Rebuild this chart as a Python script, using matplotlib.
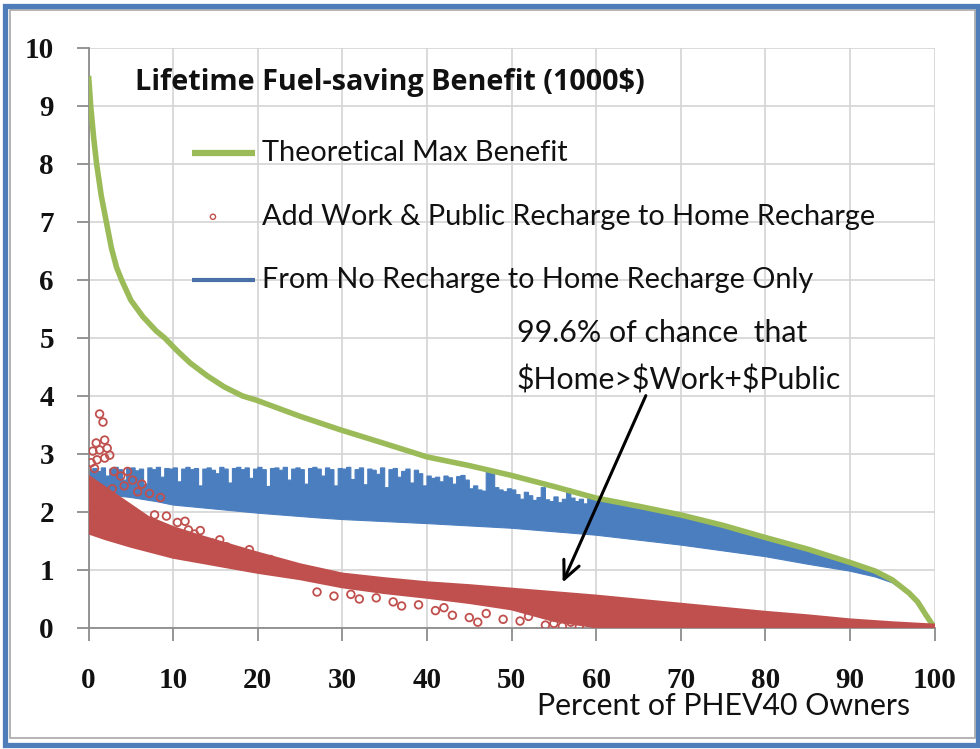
import numpy as np
import matplotlib
matplotlib.use("Agg")
import matplotlib.pyplot as plt
from matplotlib.patches import Rectangle

# Theoretical max benefit curve
green_x = [0, 0.25, 0.6, 0.95, 1.5, 2.1, 2.7, 3.3, 3.9, 5.0, 6.4, 8.0, 9.0, 10.4, 12, 14, 16,
           18.2, 19.8, 25, 29.7, 35, 40, 45, 50, 55, 60, 65, 70, 75, 80, 85, 90, 93, 95,
           97, 98, 99, 100]
green_y = [9.52, 9.0, 8.45, 8.0, 7.45, 7.0, 6.55, 6.22, 6.0, 5.65, 5.37, 5.12, 5.0, 4.79,
           4.57, 4.35, 4.16, 4.0, 3.93, 3.65, 3.42, 3.18, 2.95, 2.8, 2.63, 2.44, 2.24, 2.1,
           1.95, 1.77, 1.56, 1.36, 1.13, 0.98, 0.83, 0.6, 0.45, 0.22, 0.0]

# Home recharge only: jagged upper edge, one value per half percent (0 .. 59.5)
blue_top_step = [2.72, 2.75, 2.70, 2.76, 2.62, 2.74, 2.77, 2.73, 2.55, 2.75,
                 2.76, 2.71, 2.74, 2.48, 2.76, 2.73, 2.77, 2.60, 2.75, 2.74,
                 2.76, 2.52, 2.74, 2.77, 2.73, 2.75, 2.45, 2.74, 2.76, 2.72,
                 2.66, 2.77, 2.74, 2.50, 2.75, 2.77, 2.73, 2.76, 2.58, 2.74,
                 2.77, 2.73, 2.44, 2.75, 2.76, 2.72, 2.77, 2.55, 2.74, 2.76,
                 2.73, 2.48, 2.75, 2.77, 2.74, 2.62, 2.76, 2.73, 2.45, 2.75,
                 2.74, 2.77, 2.56, 2.73, 2.76, 2.47, 2.74, 2.72, 2.65, 2.76,
                 2.42, 2.73, 2.75, 2.60, 2.70, 2.74, 2.50, 2.72, 2.66, 2.45,
                 2.62, 2.58, 2.60, 2.52, 2.62, 2.59, 2.48, 2.61, 2.63, 2.55,
                 2.40, 2.45, 2.38, 2.36, 2.70, 2.66, 2.42, 2.38, 2.35, 2.40,
                 2.38, 2.30, 2.22, 2.34, 2.28, 2.20, 2.25, 2.42, 2.21, 2.18,
                 2.26, 2.16, 2.22, 2.40, 2.24, 2.18, 2.22, 2.14, 2.25, 2.20]
blue_tail_x = [60, 62, 64, 66, 68, 70, 72, 74, 76, 78, 80, 82, 84, 86, 88, 90,
               92, 94, 96, 98, 99, 100]
blue_tail_y = [2.22, 2.16, 2.08, 2.07, 1.98, 1.93, 1.86, 1.78, 1.72, 1.64, 1.55, 1.47,
               1.40, 1.32, 1.22, 1.12, 1.03, 0.90, 0.72, 0.45, 0.24, 0.0]
blue_lo_x = [0, 2, 5, 8, 10, 15, 20, 27, 30, 40, 50, 60, 70, 80, 85, 90, 93, 95, 97, 98, 99, 100]
blue_lo_y = [2.35, 2.3, 2.25, 2.18, 2.12, 2.05, 1.98, 1.9, 1.87, 1.8, 1.72, 1.6, 1.43, 1.23,
             1.1, 0.98, 0.88, 0.78, 0.58, 0.42, 0.22, 0.0]

# Work & public recharge: dense band edges
red_top_x = [0, 1, 3, 5, 7, 10, 13, 16, 20, 25, 30, 35, 40, 45, 50, 55, 60, 65, 70, 75,
             80, 85, 90, 95, 100]
red_top_y = [2.6, 2.5, 2.3, 2.1, 1.9, 1.72, 1.58, 1.45, 1.28, 1.08, 0.92, 0.84, 0.77,
             0.72, 0.66, 0.6, 0.54, 0.47, 0.4, 0.33, 0.26, 0.2, 0.13, 0.08, 0.04]
red_lo_x = [0, 2, 5, 10, 15, 20, 25, 30, 35, 40, 45, 50, 55, 60, 65, 70, 80, 90, 100]
red_lo_y = [1.65, 1.55, 1.42, 1.23, 1.1, 0.97, 0.86, 0.72, 0.62, 0.54, 0.45, 0.34, 0.14,
            0.03, 0.02, 0.02, 0.02, 0.02, 0.02]
# scattered individual owners outside the dense band
red_out_x = [1.3, 1.7, 1.9, 0.9, 1.3, 0.5, 2.5, 1.9, 0.3, 1.0, 2.2, 0.7, 3.0, 4.6, 3.8, 5.2,
             6.3, 7.2, 8.5, 4.2, 2.8, 5.8, 7.8, 9.2, 6.8, 11.4, 11.8, 14.5, 16.3, 17.7, 13.2,
             15.5, 10.5, 12.5, 19.0, 21.5, 27, 29, 31, 32, 34, 36, 37, 39, 41, 42, 43, 45,
             46, 47, 49, 51, 52, 54, 55, 56, 57, 58]
red_out_y = [3.69, 3.55, 3.24, 3.19, 3.07, 3.05, 2.98, 2.93, 2.85, 2.9, 3.1, 2.75, 2.7, 2.7,
             2.62, 2.55, 2.48, 2.32, 2.25, 2.45, 2.4, 2.35, 1.95, 1.93, 1.75, 1.84, 1.69, 1.47,
             1.4, 1.29, 1.68, 1.52, 1.82, 1.62, 1.35, 1.18, 0.62, 0.55, 0.58, 0.5, 0.52, 0.45,
             0.38, 0.4, 0.3, 0.35, 0.22, 0.18, 0.1, 0.25, 0.15, 0.12, 0.2, 0.05, 0.08, 0.03,
             0.1, 0.02]

x_ticks = list(range(0, 101, 10))
y_ticks = list(range(0, 11))

GREEN = "#9BBB59"
BLUE = "#4A7EBF"
RED = "#C0504D"

W, H = 980, 749
fig = plt.figure(figsize=(W / 100, H / 100), dpi=100)
ax = fig.add_axes([88.6 / W, 1 - 628 / H, 846 / W, 580 / H])

ax.set_xlim(0, 100)
ax.set_ylim(0, 10)
ax.set_xticks(x_ticks)
ax.set_yticks(y_ticks)
ax.grid(True, color="#D4D4D4", lw=1.2, zorder=0)
for s in ["top", "right"]:
    ax.spines[s].set_visible(False)
for s in ["left", "bottom"]:
    ax.spines[s].set_color("#8C8C8C")
    ax.spines[s].set_linewidth(1.3)
ax.tick_params(direction="out", length=9, width=1.3, color="#8C8C8C",
               labelsize=21, labelcolor="#111111")
ax.tick_params(axis="y", pad=16)
ax.tick_params(axis="x", pad=19)
for lab in ax.get_xticklabels() + ax.get_yticklabels():
    lab.set_family("Liberation Serif")
    lab.set_fontweight("bold")

# blue band: stepped top, smooth bottom
sx, sy = [], []
for i, v in enumerate(blue_top_step):
    x0 = i * 0.5
    sx += [x0, x0 + 0.5]
    sy += [v, v]
poly_x = sx + blue_tail_x + blue_lo_x[::-1]
poly_y = sy + blue_tail_y + blue_lo_y[::-1]
ax.fill(poly_x, poly_y, color=BLUE, lw=0.8, ec=BLUE, zorder=2)

ax.plot(green_x, green_y, color=GREEN, lw=4, solid_capstyle="butt", zorder=3)

# red dense band + outliers
ax.fill(red_top_x + red_lo_x[::-1], red_top_y + red_lo_y[::-1], fc=RED, ec=RED, lw=3,
        joinstyle="round", zorder=4)
ax.scatter(red_out_x, red_out_y, s=30, facecolors="none", edgecolors=RED, lw=1.3, zorder=5)

tfont = dict(family="Lato", color="#111111")
ax.text(5.5, 9.4, "Lifetime Fuel-saving Benefit (1000$)", fontsize=20.7, fontweight="bold",
        va="center", ha="left", family="Open Sans", color="#111111")

ax.plot([12.2, 19.7], [8.19, 8.19], color=GREEN, lw=4.5, solid_capstyle="butt", zorder=6)
ax.text(20.5, 8.19, "Theoretical Max Benefit", fontsize=20.8, va="center", **tfont)
ax.scatter([14.7], [7.09], s=14, facecolors="none", edgecolors=RED, lw=1, zorder=6)
ax.text(20.5, 7.09, "Add Work & Public Recharge to Home Recharge", fontsize=20.8, va="center",
        **tfont)
ax.plot([12.2, 19.7], [6.0, 6.0], color="#4A70A8", lw=3, solid_capstyle="butt", zorder=6)
ax.text(20.5, 6.0, "From No Recharge to Home Recharge Only", fontsize=20.8, va="center", **tfont)

ax.text(50.6, 5.09, "99.6% of chance  that", fontsize=21.8, va="center", **tfont)
ax.text(50.6, 4.28, "$Home>$Work+$Public", fontsize=21.8, va="center", **tfont)
ax.annotate("", xy=(55.9, 0.74), xytext=(66.0, 4.05),
            arrowprops=dict(arrowstyle="->,head_length=1.3,head_width=0.6", color="black", lw=2.2),
            zorder=7)

fig.text(537 / W, 1 - 706 / H, "Percent of PHEV40 Owners", fontsize=21.8, ha="left", va="center",
         **tfont)

# screenshot frame
fig.add_artist(Rectangle((10 / W, 1 - 738 / H), 965 / W, 728 / H, transform=fig.transFigure,
                         fill=False, ec="#A8A8A8", lw=1.2))
fig.add_artist(Rectangle((4.5 / W, 1 - 744.5 / H), 973.5 / W, 739 / H, transform=fig.transFigure,
                         fill=False, ec="#4F7DBA", lw=3.8))

fig.savefig("out.png", dpi=100)
